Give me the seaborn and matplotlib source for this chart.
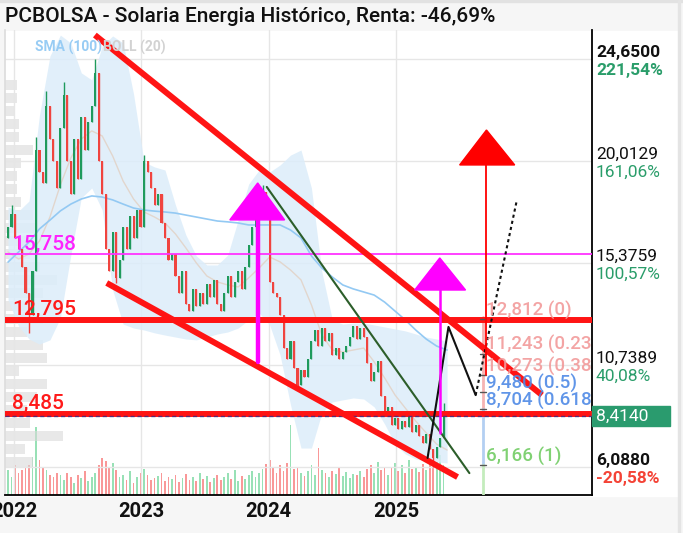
import numpy as np
import pandas as pd
import matplotlib
matplotlib.use('Agg')
import matplotlib.pyplot as plt
import matplotlib.transforms as mtransforms
from matplotlib.patches import Rectangle, Polygon
import seaborn as sns

# candles, one every 10 days from mid Dec 2021
first_open = 16.5
closes = [17.0, 17.6, 16.5, 16.0, 15.2, 14.0, 13.0, 15.0, 20.5, 19.5,
          19.0, 22.5, 21.0, 20.0, 18.8, 21.5, 23.0, 20.0, 18.5, 21.0,
          19.2, 22.0, 20.5, 21.8, 22.5, 24.0, 20.0, 18.5, 16.0, 15.0,
          16.8, 14.7, 15.5, 17.0, 16.0, 17.5, 16.5, 17.8, 17.0, 20.0,
          19.5, 18.8, 18.0, 18.5, 17.2, 16.5, 15.5, 15.8, 14.8, 14.0,
          15.0, 13.5, 13.2, 14.2, 13.4, 14.0, 13.5, 14.4, 13.8, 14.6,
          13.5, 13.2, 14.0, 14.8, 13.8, 14.5, 15.0, 14.2, 15.2, 16.2,
          17.0, 17.5, 18.3, 18.6, 17.8, 14.5, 14.0, 13.8, 13.0, 11.5,
          11.0, 11.8, 10.6, 9.8, 10.5, 10.2, 11.0, 11.8, 12.3, 11.6,
          12.4, 11.8, 12.2, 11.2, 11.5, 11.0, 11.3, 11.6, 12.0, 12.5,
          11.9, 12.4, 12.0, 10.8, 10.0, 10.4, 10.9, 9.3, 8.6, 8.8,
          8.0, 8.3, 7.8, 8.2, 7.9, 8.4, 7.7, 8.0, 7.5, 7.2,
          7.6, 6.9, 6.5, 7.0, 7.4, 8.414]
wick_high = {1: 18.0, 8: 21.1, 11: 23.2, 16: 23.6, 25: 24.65, 39: 20.3, 73: 18.9, 125: 9.0}
wick_low = {6: 12.2, 31: 14.45, 83: 9.6, 122: 6.088}
volumes = [25, 18, 30, 22, 25, 28, 30, 38, 68, 35,
           28, 25, 20, 18, 22,
           20, 15, 22, 18, 12, 20, 17, 24, 14, 18,
           22, 30, 37, 34, 28, 32, 25, 18,
           20, 15, 24, 12, 18, 22, 26, 20, 15, 17, 19, 22, 14, 18, 16, 20, 13, 17,
           21, 15, 18, 14, 22, 16, 19, 13, 17, 20, 15, 18, 22, 16, 25, 14, 19,
           16, 20, 24, 18, 22, 26, 31, 35, 28, 22, 30, 24, 32, 70, 26,
           28, 22, 19, 24, 30, 20, 47, 25, 22, 18, 24, 21, 27, 19, 23, 17, 21, 20,
           24, 18, 26, 30, 22, 33, 25, 28, 20, 27, 32, 24, 30, 22, 35, 26, 28, 23,
           31, 25, 36, 28, 33, 40, 30]

# indicators, one value every 30 days
sma100 = [15.41, 15.87, 16.32, 16.92, 17.32, 17.74, 18.05, 18.28, 18.42, 18.37,
          18.24, 18.05, 17.87, 17.78, 17.73, 17.69, 17.64, 17.55, 17.46, 17.37,
          17.28, 17.24, 17.19, 17.10, 17.10, 17.10, 17.10, 16.87, 16.51, 15.69,
          15.14, 14.73, 14.37, 14.19, 14.05, 13.91, 13.59, 13.18, 12.78, 12.32,
          11.91, 11.59, 11.41]
boll_upper = [17.92, 17.73, 18.19, 22.10, 24.79, 25.74, 25.38, 24.02, 23.70, 25.24,
              25.70, 25.38, 23.06, 19.96, 19.74, 19.60, 18.01, 16.64, 15.69, 15.28,
              15.28, 15.73, 17.33, 18.96, 19.60, 19.51, 19.83, 20.28, 20.51, 18.78,
              14.96, 12.78, 12.59, 12.64, 12.64, 12.55, 12.46, 12.37, 12.28, 12.14,
              12.00, 11.91, 11.82]
boll_lower = [13.69, 12.50, 11.91, 11.68, 11.87, 12.87, 15.73, 18.33, 18.78, 17.78,
              14.14, 12.59, 12.41, 12.32, 12.19, 12.09, 12.00, 11.91, 11.87, 12.00,
              12.14, 12.23, 12.41, 12.78, 13.10, 12.55, 11.18, 8.91, 6.95, 6.95,
              8.55, 9.05, 9.14, 9.23, 9.18, 8.82, 8.04, 7.13, 6.68, 6.45,
              6.36, 6.32, 6.27]
boll_mid = [15.87, 15.55, 15.78, 16.37, 17.46, 18.92, 20.15, 21.01, 21.38, 21.15,
            20.24, 19.10, 18.28, 17.69, 17.46, 17.19, 16.69, 16.05, 15.37, 14.78,
            14.51, 14.37, 14.28, 14.69, 15.14, 15.64, 15.42, 15.05, 14.60, 13.46,
            12.09, 11.41, 11.32, 11.41, 11.50, 10.87, 10.14, 9.36, 8.77, 8.18,
            7.64, 7.13, 6.86]

# volume profile on the left
profile_levels = [6.32, 6.91, 7.50, 8.09, 8.68, 9.27, 9.86, 10.46, 11.05, 11.64,
                  12.23, 12.82, 13.41, 14.00, 14.60, 15.19, 15.78, 16.37, 16.96, 17.55,
                  18.14, 18.74, 19.33, 19.92, 20.51, 21.10, 21.69, 22.28, 22.88, 23.47]
profile_volume = [28, 20, 58, 25, 22, 32, 42, 14, 42, 38,
                  22, 38, 30, 38, 52, 35, 25, 28, 30, 28,
                  16, 12, 12, 16, 28, 14, 14, 10, 12, 12]

grid_prices = [24.65, 20.0129, 15.3759, 10.7389, 6.088]
price_labels = ['24,6500', '20,0129', '15,3759', '10,7389', '6,0880']
pct_labels = ['221,54%', '161,06%', '100,57%', '40,08%', '-20,58%']
last_price = 8.414

level_prices = [15.758, 12.795, 8.485]
level_labels = ['15,758', '12,795', '8,485']

fib_prices = [12.812, 11.243, 10.273, 9.480, 8.704, 6.166]
fib_labels = ['12,812 (0)', '11,243 (0.236)', '10,273 (0.382)', '9,480 (0.5)',
              '8,704 (0.618)', '6,166 (1)']
fib_colors = ['#f29a9a', '#f29a9a', '#f29a9a', '#4f8ae6', '#4f8ae6', '#72cc64']

channel_top = [('2022-08-21', 25.74), ('2026-02-24', 9.36)]
channel_bottom = [('2022-09-24', 14.46), ('2025-06-27', 5.63)]
green_trend = [('2023-12-27', 18.83), ('2025-07-31', 5.81)]
projection = [('2025-04-02', 6.50), ('2025-06-01', 12.46), ('2025-08-18', 9.36)]
projection_dotted = [('2025-08-18', 9.36), ('2025-12-13', 18.14)]
# arrows: (left, apex, right) dates, base price, apex price, stem bottom
arrow1 = (('2023-09-12', '2023-12-01', '2024-02-16'), 17.33, 19.01, 10.87)
arrow2 = (('2025-02-24', '2025-05-07', '2025-07-20'), 14.14, 15.60, 7.63)
arrow3 = (('2025-07-03', '2025-09-18', '2025-12-08'), 19.83, 21.42, 10.27)
fib_date = '2025-09-07'
fib_text_date = '2025-09-18'


def yr(d):
    d = pd.Timestamp(d)
    return d.year + (d.dayofyear - 1) / 365.25


def years(idx):
    return np.asarray(idx.year + (idx.dayofyear - 1) / 365.25, dtype=float)


def main():
    assert len(closes) == len(volumes)
    n = len(closes)
    cx = years(pd.date_range('2021-12-15', periods=n, freq='10D'))
    opens = np.array([first_open] + closes[:-1])
    cl = np.array(closes)
    hi = np.maximum(opens, cl)
    lo = np.minimum(opens, cl)
    for k, v in wick_high.items():
        hi[k] = v
    for k, v in wick_low.items():
        lo[k] = v
    up = cl >= opens

    bx = years(pd.date_range('2021-12-15', periods=len(sma100), freq='30D'))
    ind = pd.DataFrame({'x': bx, 'sma': sma100, 'mid': boll_mid})

    sns.set_theme(style='white')
    plt.rcParams['font.family'] = ['Roboto', 'DejaVu Sans']

    W, H = 683, 533
    fig = plt.figure(figsize=(W / 100, H / 100), dpi=100, facecolor='#f6f6f6')
    fig.patches.append(Rectangle((5 / W, 1 - 496 / H), 673 / W, 465 / H,
                                 transform=fig.transFigure, color='white', zorder=-10))
    fig.patches.append(Rectangle((0, 1 - 2 / H), 1, 2 / H, transform=fig.transFigure,
                                 color='#e2e2e2', zorder=-9))
    fig.patches.append(Rectangle((678 / W, 0), 2 / W, 1, transform=fig.transFigure,
                                 color='#e4e4e4', zorder=-9))

    ax = fig.add_axes([5 / W, 38 / H, 587 / W, 465 / H])
    vol_ax = ax.twinx()
    prof_ax = ax.twiny()
    ax.set_zorder(3)
    ax.patch.set_visible(False)
    for a in (vol_ax, prof_ax):
        a.set_zorder(1)
        a.set_axis_off()

    xmin, xmax = 2021.929, 2026.541
    ax.set_xlim(xmin, xmax)
    ax.set_ylim(4.814, 25.97)

    # volume and profile (behind)
    vol_ax.set_ylim(0, 465)
    vol_ax.bar(cx, volumes, width=5 / 365.25,
               color=np.where(up, '#86dcaa', '#f98686'), alpha=0.85, linewidth=0)
    prof_ax.set_xlim(0, 587)
    prof_ax.barh(profile_levels, profile_volume, height=0.44, left=0,
                 color='#d9d9d9', alpha=0.6, linewidth=0)

    # grid
    ax.set_yticks(grid_prices)
    ax.set_yticklabels([])
    ax.set_xticks([2022, 2023, 2024, 2025])
    ax.set_xticklabels(['2022', '2023', '2024', '2025'], fontsize=14.5,
                       fontweight='bold', color='#111111')
    ax.tick_params(axis='both', length=0)
    ax.tick_params(axis='x', pad=5)
    ax.grid(True, color='#e6e6e6', linewidth=1)
    ax.set_axisbelow(True)
    ax.spines['top'].set_visible(False)
    ax.spines['left'].set_color('#dddddd')
    ax.spines['right'].set_color('black')
    ax.spines['bottom'].set_color('black')
    ax.spines['right'].set_linewidth(1.3)
    ax.spines['bottom'].set_linewidth(1.3)

    # bollinger + sma
    ax.fill_between(bx, boll_lower, boll_upper, color='#dcedfa', alpha=0.85,
                    linewidth=0, zorder=1)
    sns.lineplot(data=ind, x='x', y='mid', ax=ax, color='#e2d6cd', linewidth=1,
                 zorder=2, legend=False)
    sns.lineplot(data=ind, x='x', y='sma', ax=ax, color='#93c9f3', linewidth=1.2,
                 zorder=2, legend=False)
    ax.set_xlabel('')
    ax.set_ylabel('')

    # candles
    colors = np.where(up, '#1f9a5c', '#f0443f')
    ax.vlines(cx, lo, hi, colors=colors, linewidth=1, zorder=3)
    body = np.maximum(np.abs(cl - opens), 0.06)
    ax.bar(cx, body, bottom=np.minimum(opens, cl), width=6 / 365.25,
           color=colors, linewidth=0, zorder=3.5)

    # levels
    ax.axhline(level_prices[0], color='#ff33ff', linewidth=1.3, zorder=4)
    ax.axhline(level_prices[1], color='#ff1414', linewidth=4.3, zorder=5)
    ax.axhline(level_prices[2], color='#ff1414', linewidth=4.3, zorder=5)
    ax.axhline(last_price, color='#32328a', linewidth=1, linestyle=(0, (3, 2)),
               alpha=0.8, zorder=5.5)
    blend = mtransforms.blended_transform_factory(ax.transAxes, ax.transData)
    for p, lab, c in zip(level_prices, level_labels, ['#ff22ff', '#ff1a1a', '#ff1a1a']):
        ax.annotate(lab, xy=(7 / 587, p), xycoords=blend, xytext=(0, 4),
                    textcoords='offset points', va='baseline', ha='left',
                    color=c, fontsize=15, fontweight='medium', zorder=8)

    # trend lines
    def line(pts, **kw):
        ax.plot([yr(d) for d, _ in pts], [v for _, v in pts], **kw)

    line(channel_top, color='#ff1414', linewidth=4.3, solid_capstyle='butt', zorder=6)
    line(channel_bottom, color='#ff1414', linewidth=4.3, solid_capstyle='butt', zorder=6)
    line(green_trend, color='#2c5e2a', linewidth=1.5, zorder=6)
    line(projection, color='#111111', linewidth=1.5, zorder=7)
    line(projection_dotted, color='#111111', linewidth=1.5, linestyle=(0, (1.5, 1.5)),
         zorder=7)

    # arrows
    for (dates, base, apex, stem), c, lw in zip([arrow1, arrow2, arrow3],
                                               ['#ff00ff', '#ff00ff', '#ff0000'],
                                               [3.2, 1.8, 1.3]):
        xl, xa, xr = (yr(d) for d in dates)
        ax.plot([xa, xa], [stem, base], color=c, linewidth=lw, zorder=7)
        ax.add_patch(Polygon([(xl, base), (xa, apex), (xr, base)], closed=True,
                             color=c, zorder=7.5))

    # fibonacci
    fx = yr(fib_date)
    ax.plot([fx, fx], [12.9, fib_prices[4]], color='#f6b3b3', linewidth=2, zorder=4)
    ax.plot([fx, fx], [fib_prices[4], fib_prices[5]], color='#b3cff2', linewidth=2, zorder=4)
    ax.plot([fx, fx], [fib_prices[5], 4.814], color='#c4ecbd', linewidth=2, zorder=4)
    for p, lab, c in zip(fib_prices, fib_labels, fib_colors):
        ax.plot([fx - 0.02, fx + 0.03], [p, p], color='#555555', linewidth=1, zorder=6)
        ax.annotate(lab, xy=(yr(fib_text_date), p), xytext=(0, 2.5),
                    textcoords='offset points', va='baseline', ha='left', color=c,
                    fontsize=13.5, fontweight='medium', alpha=0.9, zorder=8,
                    annotation_clip=False, clip_on=True)

    # legend text
    ax.text(30 / 587, 448 / 465, 'SMA (100)', transform=ax.transAxes, color='#98ccf4',
            fontsize=10, fontweight='bold', va='center', zorder=8)
    ax.text(98 / 587, 448 / 465, 'BOLL (20)', transform=ax.transAxes, color='#d2d2d2',
            fontsize=10, fontweight='bold', va='center', zorder=8)

    # right axis labels
    for i, (p, pl, pc) in enumerate(zip(grid_prices, price_labels, pct_labels)):
        bold = 'bold' if i in (0, len(grid_prices) - 1) else 'normal'
        pcol = '#f44336' if pc.startswith('-') else '#2a9d6a'
        ax.annotate(pl, xy=(1 + 4 / 587, p), xycoords=blend, xytext=(0, 4.5),
                    textcoords='offset points', va='center', ha='left', color='#111111',
                    fontsize=12.5, fontweight=bold, annotation_clip=False)
        ax.annotate(pc, xy=(1 + 4 / 587, p), xycoords=blend, xytext=(0, -8),
                    textcoords='offset points', va='center', ha='left', color=pcol,
                    fontsize=12.5, fontweight=bold, annotation_clip=False)
    ax.add_patch(Rectangle((1.0, last_price - 0.45), 78 / 587, 0.9, transform=blend,
                           color='#2a9b6e', clip_on=False, zorder=9))
    ax.annotate('8,4140', xy=(1 + 4 / 587, last_price), xycoords=blend, va='center',
                ha='left', color='white', fontsize=12.5, annotation_clip=False, zorder=10)

    fig.text(5 / W, 1 - 17 / H, 'PCBOLSA - Solaria Energia Histórico, Renta: -46,69%',
             fontsize=15, fontweight='medium', color='#111111', va='center')

    fig.savefig('out.png', dpi=100, facecolor=fig.get_facecolor())


if __name__ == '__main__':
    main()
